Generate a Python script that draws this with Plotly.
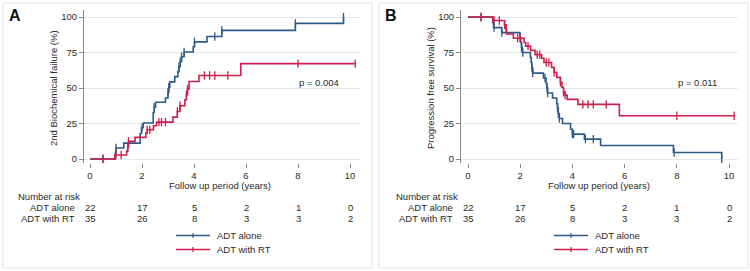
import numpy as np
import plotly.graph_objects as go

W, H = 750, 271

# ---------------- data ----------------
# Panel A: 2nd biochemical failure (%), cumulative
a_alone_t = [0, 0.97, 1.0, 1.3, 1.93, 1.98, 2.05, 2.43, 2.47, 2.52, 2.9, 3.0, 3.03, 3.07,
             3.26, 3.38, 3.42, 3.47, 3.52, 3.62, 3.97, 4.02, 4.5, 5.07, 7.9, 9.75]
a_alone_v = [0, 4, 7.7, 11.2, 18, 22, 25.4, 32.7, 36.5, 40, 43, 47, 50.5, 54.3,
             58, 61.5, 65, 68.5, 72, 75.3, 79, 82.5, 86.3, 90.6, 95.5, 100]
a_alone_end = 9.75
a_alone_cens = [0.5, 1.0, 2.0, 2.47, 3.0, 3.03, 3.42, 3.47, 3.52, 3.62, 4.02, 4.8, 5.07, 7.9, 9.75]

a_rt_t = [0, 0.96, 1.41, 1.45, 1.48, 1.73, 2.15, 2.2, 2.44, 2.56, 3.19, 3.36, 3.46,
          3.65, 3.71, 3.75, 3.81, 4.19, 5.8]
a_rt_v = [0, 2.8, 5.4, 8.2, 12.4, 15.2, 18.3, 20.6, 23.4, 26, 29.5, 33.5, 37.5,
          41.7, 45.2, 49.2, 54.6, 58.8, 67.2]
a_rt_end = 10.2
a_rt_cens = [0.5, 1.0, 1.2, 1.45, 1.48, 2.2, 2.3, 2.65, 2.75, 2.9, 3.36, 3.46, 3.71, 3.75,
             4.4, 4.6, 4.8, 5.3, 8.0, 10.2]

# Panel B: progression free survival (%)
b_alone_t = [0, 0.95, 0.98, 1.29, 1.99, 2.02, 2.05, 2.08, 2.39, 2.42, 2.45, 2.48, 2.89,
             2.99, 3.02, 3.05, 3.24, 3.4, 3.43, 3.46, 3.5, 3.62, 3.93, 4.0, 4.46, 5.08, 7.87, 9.72]
b_alone_v = [100, 96, 92.5, 89, 85.5, 82, 78.5, 75, 71.5, 68, 64, 60.5, 57,
             53.5, 50, 46.5, 43, 39, 36, 32, 28.5, 25, 21, 17.5, 14, 9.5, 4.6, 0]
b_alone_end = 9.72
b_alone_cens = [0.5, 1.0, 1.3, 2.0, 2.05, 2.1, 2.45, 2.48, 2.95, 3.03, 3.05, 3.43, 3.46,
                3.5, 4.0, 4.05, 4.5, 4.8, 7.9, 9.72]

b_rt_t = [0, 0.95, 1.4, 1.46, 1.48, 1.74, 2.15, 2.21, 2.4, 2.57, 2.82, 2.91, 3.2, 3.3,
          3.4, 3.54, 3.6, 3.66, 3.72, 3.8, 4.21, 5.8]
b_rt_v = [100, 97.5, 94.5, 91.5, 88, 85, 82, 79.5, 76.5, 73.5, 71, 68, 64.5, 61,
          57.5, 54, 50.5, 47, 45, 42, 38.5, 30.5]
b_rt_end = 10.2
b_rt_cens = [0.5, 1.0, 1.2, 1.4, 1.46, 1.9, 2.0, 2.3, 2.65, 2.75, 3.0, 3.1, 3.3, 3.54,
             3.66, 3.72, 4.4, 4.6, 4.8, 5.3, 8.0, 10.2]

risk_times = [0, 2, 4, 6, 8, 10]
risk_alone = [22, 17, 5, 2, 1, 0]
risk_rt = [35, 26, 8, 3, 3, 2]

group_names = ["ADT alone", "ADT with RT"]
y_titles = ["2nd Biochemical failure (%)", "Progression free survival (%)"]
p_values = ["p = 0.004", "p = 0.011"]
panel_letters = ["A", "B"]
x_title = "Follow up period (years)"

BLUE = "#2c5a87"
RED = "#cc1f4c"
GRID = "#e4e9ef"
AX = "#8a8a8a"
TXT = "#2a2a2a"
FONT = "Liberation Sans, Arial, sans-serif"
FS = 9.5


def px(x):
    return x / W


def py(y):
    return 1 - y / H


def step_value(ts, vs, t):
    idx = np.searchsorted(np.asarray(ts), t, side="right") - 1
    return vs[max(idx, 0)]


fig = go.Figure()

panels = [
    dict(ax="", curves=[(a_alone_t, a_alone_v, a_alone_end, a_alone_cens, BLUE),
                        (a_rt_t, a_rt_v, a_rt_end, a_rt_cens, RED)],
         left=84, x0=90, x10=350, right=360, box=(3, 372)),
    dict(ax="2", curves=[(b_alone_t, b_alone_v, b_alone_end, b_alone_cens, BLUE),
                         (b_rt_t, b_rt_v, b_rt_end, b_rt_cens, RED)],
         left=461, x0=468, x10=729, right=738, box=(379, 748)),
]

Y_TOP, Y_BOT = 10, 163          # plot area in px
Y100, Y0 = 17, 159              # pixel of y=100 and y=0

shapes = []
annotations = []

for i, p in enumerate(panels):
    xa = "x" + p["ax"]
    ya = "y" + p["ax"]
    for ts, vs, tend, cens, col in p["curves"]:
        xs = list(ts) + [tend]
        ys = list(vs) + [vs[-1]]
        fig.add_trace(go.Scatter(x=xs, y=ys, mode="lines", line=dict(color=col, width=1.6, shape="hv"),
                                 xaxis=xa, yaxis=ya, showlegend=False, hoverinfo="skip"))
        cy = [step_value(ts, vs, t) for t in cens]
        fig.add_trace(go.Scatter(x=cens, y=cy, mode="markers",
                                 marker=dict(symbol="line-ns", size=6, line=dict(color=col, width=1.3)),
                                 xaxis=xa, yaxis=ya, showlegend=False, hoverinfo="skip"))

    ux = (p["x10"] - p["x0"]) / 10.0
    uy = (Y0 - Y100) / 100.0
    xr = [(p["left"] - p["x0"]) / ux, 10 + (p["right"] - p["x10"]) / ux]
    yr = [-(Y_BOT - Y0) / uy, 100 + (Y100 - Y_TOP) / uy]
    xkey = "xaxis" + p["ax"]
    ykey = "yaxis" + p["ax"]
    fig.update_layout(**{
        xkey: dict(domain=[px(p["left"]), px(p["right"])], range=xr, anchor=ya,
                   tickvals=risk_times, ticks="outside", ticklen=4, tickcolor=AX,
                   showline=False, showgrid=False, zeroline=False,
                   tickfont=dict(size=FS, color=TXT, family=FONT)),
        ykey: dict(domain=[py(Y_BOT), py(Y_TOP)], range=yr, anchor=xa,
                   tickvals=[0, 25, 50, 75, 100], ticks="outside", ticklen=4, tickcolor=AX,
                   showline=True, linecolor=AX, linewidth=1, showgrid=True, gridcolor=GRID,
                   zeroline=False, tickfont=dict(size=FS, color=TXT, family=FONT)),
    })

    # panel border
    shapes.append(dict(type="rect", xref="paper", yref="paper",
                       x0=px(p["box"][0]), x1=px(p["box"][1]), y0=py(268), y1=py(3),
                       line=dict(color="#dfe5ec", width=1), layer="below"))
    # panel letter
    annotations.append(dict(text="<b>%s</b>" % panel_letters[i], xref="paper", yref="paper",
                            x=px(p["box"][0] + 4), y=py(15), xanchor="left", yanchor="middle",
                            showarrow=False, font=dict(size=16, color="#111", family=FONT)))
    # y title
    annotations.append(dict(text=y_titles[i], xref="paper", yref="paper",
                            x=px(p["left"] - 31), y=py(88), textangle=-90,
                            xanchor="center", yanchor="middle", showarrow=False,
                            font=dict(size=FS, color=TXT, family=FONT)))
    # x title
    annotations.append(dict(text=x_title, xref=xa, yref="paper", x=5, y=py(185),
                            xanchor="center", yanchor="middle", showarrow=False,
                            font=dict(size=FS, color=TXT, family=FONT)))
    # p value
    annotations.append(dict(text=p_values[i], xref=xa, yref=ya, x=8.8, y=54,
                            xanchor="center", yanchor="middle", showarrow=False,
                            font=dict(size=FS, color=TXT, family=FONT)))
    # number at risk
    annotations.append(dict(text="Number at risk", xref="paper", yref="paper",
                            x=px(p["x0"] - 74), y=py(196.5), xanchor="left", yanchor="middle",
                            showarrow=False, font=dict(size=FS, color=TXT, family=FONT)))
    for row_y, name, vals in [(207.5, group_names[0], risk_alone), (218, group_names[1], risk_rt)]:
        annotations.append(dict(text=name, xref="paper", yref="paper",
                                x=px(p["x0"] - 13), y=py(row_y), xanchor="right", yanchor="middle",
                                showarrow=False, font=dict(size=FS, color=TXT, family=FONT)))
        for t, n in zip(risk_times, vals):
            annotations.append(dict(text=str(n), xref=xa, yref="paper", x=t, y=py(row_y),
                                    xanchor="center", yanchor="middle", showarrow=False,
                                    font=dict(size=FS, color=TXT, family=FONT)))
    # legend (drawn manually)
    lx0 = p["x0"] + 86
    for k, (col, name) in enumerate([(BLUE, group_names[0]), (RED, group_names[1])]):
        yy = 235.5 + 14 * k
        shapes.append(dict(type="line", xref="paper", yref="paper", x0=px(lx0), x1=px(lx0 + 34),
                           y0=py(yy), y1=py(yy), line=dict(color=col, width=1.6)))
        shapes.append(dict(type="line", xref="paper", yref="paper", x0=px(lx0 + 17), x1=px(lx0 + 17),
                           y0=py(yy - 2.5), y1=py(yy + 2.5), line=dict(color=col, width=1.2)))
        annotations.append(dict(text=name, xref="paper", yref="paper", x=px(lx0 + 39), y=py(yy),
                                xanchor="left", yanchor="middle", showarrow=False,
                                font=dict(size=FS, color=TXT, family=FONT)))

fig.update_layout(width=W, height=H, margin=dict(l=0, r=0, t=0, b=0),
                  paper_bgcolor="white", plot_bgcolor="white",
                  shapes=shapes, annotations=annotations, showlegend=False,
                  font=dict(family=FONT, color=TXT))

fig.write_html("out.html", config={"displayModeBar": False},
               post_script="document.body.style.margin='0px';document.body.style.padding='0px';")
